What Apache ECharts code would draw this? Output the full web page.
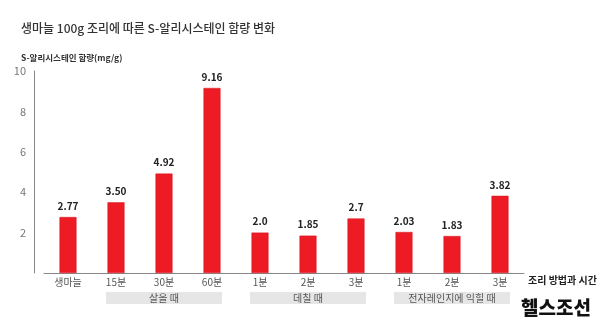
<!DOCTYPE html>
<html><head><meta charset="utf-8">
<script src="https://cdn.jsdelivr.net/npm/echarts@6/dist/echarts.min.js"></script>
<style>html,body{margin:0;padding:0;background:#fff}#c{width:600px;height:324px}</style>
</head><body><div id="c"></div>
<script>
const categories = ['생마늘','15분','30분','60분','1분','2분','3분','1분','2분','3분'];
const values = [2.77, 3.50, 4.92, 9.16, 2.0, 1.85, 2.7, 2.03, 1.83, 3.82];
const valueLabels = ['2.77','3.50','4.92','9.16','2.0','1.85','2.7','2.03','1.83','3.82'];
const groupLabels = ['', '', '살을 때', '', '', '데칠 때', '', '', '전자레인지에 익힐 때', ''];
const yTicks = [0, 2, 4, 6, 8, 10];

const FONT = '"Noto Sans CJK KR", "Noto Sans", sans-serif';
const chart = echarts.init(document.getElementById('c'), null, {renderer:'canvas'});
chart.setOption({
  animation: false,
  textStyle: {fontFamily: FONT},
  title: [
    {text: '생마늘 100g 조리에 따른 S-알리시스테인 함량 변화', left: 16, top: 17,
     textStyle: {fontSize: 12, fontWeight: 500, color: '#333', fontFamily: FONT}},
    {text: 'S-알리시스테인 함량(mg/g)', left: 16, top: 49,
     textStyle: {fontSize: 8.5, fontWeight: 'bold', color: '#333', fontFamily: FONT}},
    {text: '헬스조선', left: 516, top: 293,
     textStyle: {fontSize: 19, fontWeight: 900, color: '#111', fontFamily: FONT}}
  ],
  grid: {left: 44, right: 76, top: 71, bottom: 51, containLabel: false},
  xAxis: [
    {type: 'category', data: categories, gridIndex: 0,
     axisLine: {show: true, lineStyle: {color: '#888', width: 1}},
     axisTick: {show: false},
     axisLabel: {interval: 0, margin: 4, fontSize: 10, color: '#555', fontFamily: FONT},
     name: '조리 방법과 시간', nameLocation: 'end', nameGap: 4,
     nameTextStyle: {fontSize: 10, fontWeight: 'bold', color: '#222', verticalAlign: 'top', padding: [2,0,0,0], fontFamily: FONT}},
    {type: 'category', data: groupLabels, gridIndex: 0, position: 'bottom',
     axisLine: {show: false}, axisTick: {show: false},
     axisLabel: {interval: 0, margin: 19,
       formatter: v => v ? '{g|' + v + '}' : '',
       rich: {g: {backgroundColor: '#e6e6e6', width: 116, height: 12, lineHeight: 12,
                  align: 'center', fontSize: 10, color: '#555', fontFamily: FONT}}}}
  ],
  yAxis: {type: 'value', min: yTicks[0], max: yTicks[yTicks.length-1], interval: 2, offset: 10,
    axisLine: {show: true, lineStyle: {color: '#888', width: 1}},
    axisTick: {show: false}, splitLine: {show: false},
    axisLabel: {margin: 8, fontSize: 11, color: '#777', fontFamily: FONT,
      formatter: v => v === 0 ? '' : String(v)}},
  series: [{
    type: 'bar', data: values, barWidth: 17, xAxisIndex: 0,
    itemStyle: {color: '#ed1c24', borderColor: '#d8141c', borderWidth: 0.5},
    label: {show: true, position: 'top', distance: 6, fontSize: 10, fontWeight: 'bold', color: '#222',
      fontFamily: FONT, formatter: p => valueLabels[p.dataIndex]}
  }]
});
</script></body></html>
